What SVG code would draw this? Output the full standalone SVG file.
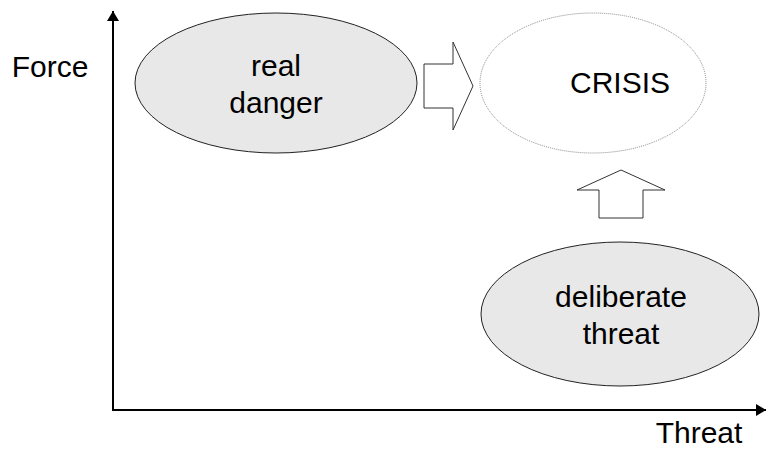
<svg xmlns="http://www.w3.org/2000/svg" width="766" height="451" viewBox="0 0 766 451">
<style>
text{font-family:"Liberation Sans",Arial,sans-serif;font-size:30px;fill:#000;text-anchor:middle}
.axis{stroke:#000;stroke-width:2;fill:none}
.node{fill:#e8e8e8;stroke:#222;stroke-width:1}
.crisis{fill:#fff;stroke:#888;stroke-width:1;stroke-dasharray:1 1}
.blk{fill:#fff;stroke:#333;stroke-width:1}
</style>
<defs>
<marker id="ah" markerWidth="10" markerHeight="12" refX="10" refY="6" orient="auto" markerUnits="userSpaceOnUse">
<path d="M0,0 L10,6 L0,12 Z" fill="#000"/>
</marker>
</defs>
<rect width="766" height="451" fill="#fff"/>
<g id="axes">
<line class="axis" x1="113" y1="410" x2="113" y2="11" marker-end="url(#ah)"/>
<line class="axis" x1="112" y1="410" x2="766" y2="410" marker-end="url(#ah)"/>
<text x="50" y="77">Force</text>
<text x="699" y="443">Threat</text>
</g>
<g id="real-danger">
<ellipse class="node" cx="276" cy="83" rx="141" ry="70"/>
<text x="276" y="76">real</text>
<text x="276" y="113">danger</text>
</g>
<g id="crisis">
<ellipse class="crisis" cx="593" cy="83" rx="113" ry="70"/>
<text x="620" y="93">CRISIS</text>
</g>
<g id="deliberate-threat">
<ellipse class="node" cx="620" cy="314" rx="139" ry="72"/>
<text x="621" y="307">deliberate</text>
<text x="621" y="344">threat</text>
</g>
<g id="connectors">
<polygon class="blk" points="424,64 453,64 453,42 473,86 453,130 453,108 424,108"/>
<polygon class="blk" points="621,170 665,190 643,190 643,218 599,218 599,190 577,190"/>
</g>
</svg>
